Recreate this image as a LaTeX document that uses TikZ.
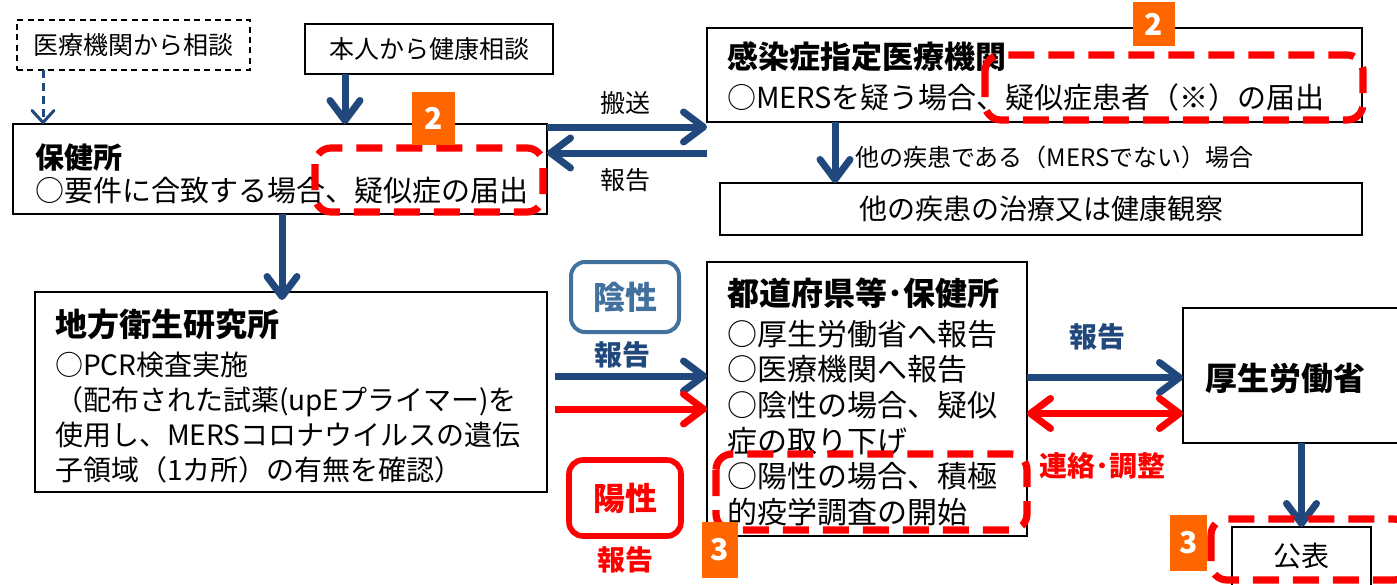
\documentclass[tikz,border=0pt]{standalone}
\usepackage{fontspec}
\setmainfont{Noto Sans CJK JP}
\usetikzlibrary{arrows.meta}

\definecolor{flowblue}{RGB}{33,72,124}
\definecolor{negblue}{RGB}{65,113,156}
\definecolor{markorange}{RGB}{255,102,0}
\definecolor{markred}{RGB}{255,0,0}
\newcommand{\fsz}[2]{\fontsize{#1}{#2}\selectfont}

\begin{document}
\begin{tikzpicture}[x=0.5pt, y=-0.5pt, inner sep=0pt, outer sep=0pt,
  box/.style={draw=black, line width=0.8pt, anchor=north west},
  dbox/.style={box, dash pattern=on 3pt off 2.2pt},
  rbox/.style={rounded corners=7pt, anchor=north west, font=\fsz{16}{16}\bfseries},
  redmark/.style={draw=markred, line width=3.6pt, dash pattern=on 13pt off 7pt, rounded corners=8pt},
  badge/.style={fill=markorange, text=white, anchor=north west, font=\fsz{15}{15}\bfseries},
  barbtip/.tip={Straight Barb[length=10pt,width=15pt,round]},
  bluearrow/.style={draw=flowblue, line width=3.5pt, -barbtip},
  redarrow/.style={draw=markred, line width=3.5pt, -barbtip},
  lbl/.style={font=\fsz{12.5}{15}},
  blbl/.style={font=\fsz{14}{16}\bfseries}
]
\useasboundingbox (0,0) rectangle (1397,584);

% consultations
\node[dbox, minimum width=116.5pt, minimum height=25pt, font=\fsz{12.5}{15}] (iryoReq) at (17,20) {医療機関から相談};
\node[box, minimum width=124pt, minimum height=25pt, font=\fsz{12.5}{15}] (selfReq) at (305,24) {本人から健康相談};

% health centre
\node[box, minimum width=267pt, minimum height=45pt] (hoken) at (13,124) {};
\node[anchor=north west, align=left, font=\fsz{14.5}{16.5}] (hokenText) at (35,144)
  {\textbf{保健所}\\○要件に合致する場合、疑似症の届出};

% designated hospital
\node[box, minimum width=327.5pt, minimum height=47pt] (kansen) at (707,28) {};
\node[anchor=north west, align=left, font=\fsz{14.5}{20}] (kansenText) at (727,42)
  {{\fsz{15.5}{20}\bfseries 感染症指定医療機関}\\○MERSを疑う場合、疑似症患者（※）の届出};
\node[box, minimum width=321pt, minimum height=26pt, font=\fsz{14}{16}] (other) at (720,183) {他の疾患の治療又は健康観察};

% local institute
\node[box, minimum width=256pt, minimum height=100pt] (chiho) at (35,292) {};
\node[anchor=north west, align=left, font=\fsz{14}{17.5}] (chihoText) at (55,309)
  {{\fsz{16}{17.5}\bfseries 地方衛生研究所}\\[2pt]○PCR検査実施\\（配布された試薬(upEプライマー)を\\使用し、MERSコロナウイルスの遺伝\\子領域（1カ所）の有無を確認）};

% prefecture
\node[box, minimum width=160pt, minimum height=137pt] (todo) at (707,262) {};
\node[anchor=north west, align=left, font=\fsz{15}{17.8}] (todoText) at (727,278)
  {{\fsz{16}{17.8}\bfseries 都道府県等･保健所}\\[2pt]○厚生労働省へ報告\\○医療機関へ報告\\○陰性の場合、疑似\\症の取り下げ\\○陽性の場合、積極\\的疫学調査の開始};

% ministry
\node[box, minimum width=110pt, minimum height=67.5pt] (kousei) at (1183,308) {};
\node[font=\fsz{16}{16}\bfseries] (kouseiText) at (1285,378) {厚生労働省};
\node[box, minimum width=69.5pt, minimum height=35pt] (kouhyou) at (1232,527) {};
\node[font=\fsz{14}{14}] (kouhyouText) at (1301,556) {公表};

% results
\node[rbox, draw=negblue, line width=2pt, text=negblue, minimum width=54pt, minimum height=35pt] (neg) at (571,262) {陰性};
\node[rbox, draw=markred, line width=2.8pt, text=markred, minimum width=56pt, minimum height=38pt] (pos) at (569,460) {陽性};

% arrows
\draw[draw=flowblue, line width=1.5pt, dash pattern=on 4pt off 2.5pt, -{Straight Barb[length=6pt,width=11pt,round]}]
  ([xshift=13pt]iryoReq.south west) -- ([xshift=13pt]iryoReq.south west |- hoken.north);
\draw[bluearrow] ([xshift=20pt]selfReq.south west) -- ([xshift=20pt]selfReq.south west |- hoken.north);
\draw[bluearrow] ([yshift=-1.5pt]hoken.north east) -- ([yshift=-1.5pt]hoken.north east -| kansen.west);
\draw[bluearrow] ([yshift=-14.5pt]hoken.north east -| kansen.west) -- ([yshift=-14.5pt]hoken.north east);
\draw[bluearrow] ([xshift=64pt]kansen.south west) -- ([xshift=64pt]kansen.south west |- other.north);
\draw[bluearrow, shorten >=-4pt] ([xshift=134.5pt]hoken.south west) -- ([xshift=134.5pt]hoken.south west |- chiho.north);
\draw[bluearrow] ([shift={(4pt,8pt)}]chiho.east) -- ([yshift=8pt]chiho.east -| todo.west);
\draw[redarrow] ([shift={(4pt,-8.5pt)}]chiho.east) -- ([yshift=-8.5pt]chiho.east -| todo.west);
\draw[bluearrow] ([yshift=-1pt]kousei.west -| todo.east) -- ([yshift=-1pt]kousei.west);
\draw[redarrow, barbtip-barbtip] ([yshift=-19pt]kousei.west -| todo.east) -- ([yshift=-19pt]kousei.west);
\draw[bluearrow] (kousei.south -| kouhyou.north) -- (kouhyou.north);

% arrow labels
\node[lbl] (hansouLbl) at (625,103) {搬送};
\node[lbl] (houkokuLbl) at (625,180) {報告};
\node[lbl, anchor=west, font=\fsz{12}{14}] (otherLbl) at (855,157) {他の疾患である（MERSでない）場合};
\node[blbl, text=flowblue] (negRep) at (622,355) {報告};
\node[blbl, text=markred] (posRep) at (625,560) {報告};
\node[blbl, text=flowblue] (mhlwRep) at (1097,337) {報告};
\node[blbl, text=markred] (liaison) at (1102,466) {連絡･調整};

% marked items
\draw[redmark] (315,148) rectangle (543,212);
\draw[redmark] (985,55) rectangle (1363,120);
\draw[redmark] (716,454) rectangle (1027,530);
\draw[redmark] (1211,519) rectangle (1410,580);

\node[badge, minimum width=21.5pt, minimum height=26.5pt] (badgeA) at (412,92) {2};
\node[badge, minimum width=21pt, minimum height=22pt] (badgeB) at (1133,2) {2};
\node[badge, minimum width=18pt, minimum height=28pt] (badgeC) at (702,522) {3};
\node[badge, minimum width=18.5pt, minimum height=28pt] (badgeD) at (1170,515) {3};

\end{tikzpicture}
\end{document}
